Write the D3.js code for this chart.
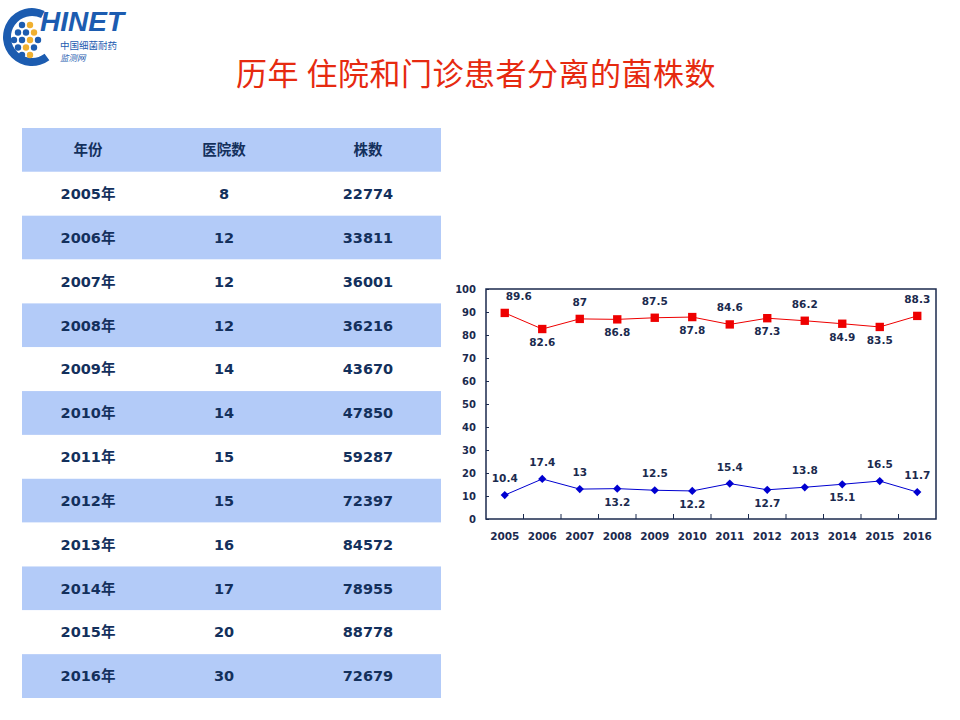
<!DOCTYPE html>
<html>
  <head>
    <meta charset="UTF-8">
    <script src="https://d3js.org/d3.v7.min.js"></script>
    <style type="text/css">
    body {
      margin: 0;
      background: #fff;
      font-family: 'DejaVu Sans', sans-serif;
    }
    </style>
  </head>
  <body>
  </body>
  <script>
    // table data
    var years = ["2005","2006","2007","2008","2009","2010","2011","2012","2013","2014","2015","2016"];
    var hospitals = [8, 12, 12, 12, 14, 14, 15, 15, 16, 17, 20, 30];
    var isolates = [22774, 33811, 36001, 36216, 43670, 47850, 59287, 72397, 84572, 78955, 88778, 72679];
    var tableHeader = ["年份", "医院数", "株数"];

    // chart data (%)
    var inpatient = [89.6, 82.6, 87, 86.8, 87.5, 87.8, 84.6, 87.3, 86.2, 84.9, 83.5, 88.3];
    var outpatient = [10.4, 17.4, 13, 13.2, 12.5, 12.2, 15.4, 12.7, 13.8, 15.1, 16.5, 11.7];
    var yTicks = [0, 10, 20, 30, 40, 50, 60, 70, 80, 90, 100];
    // label above (1) or below (-1) the point
    var inpatientSide = [1, -1, 1, -1, 1, -1, 1, -1, 1, -1, -1, 1];
    var outpatientSide = [1, 1, 1, -1, 1, -1, 1, -1, 1, -1, 1, 1];

    var navy = "#1b2a4e";

    var svg = d3.select("body").append("svg")
      .attr("width", 960)
      .attr("height", 720);

    // ---- logo ----
    var logo = svg.append("g");
    logo.append("path")
      .attr("d", d3.arc()({innerRadius: 21, outerRadius: 29, startAngle: 2.5, endAngle: 2 * Math.PI + 0.45}))
      .attr("transform", "translate(32,37)")
      .attr("fill", "#1c5cb0");
    var dots = [[0.5,0],[1.5,0],[0,1],[1,1],[2,1],[-0.5,2],[0.5,2],[1.5,2],[2.5,2],[0,3],[1,3],[2,3],[0.5,4],[1.5,4]];
    logo.selectAll("circle.dot").data(dots).enter().append("circle")
      .attr("cx", function(d) { return 18 + d[0] * 8; })
      .attr("cy", function(d) { return 25 + d[1] * 7.5; })
      .attr("r", 3.2)
      .attr("fill", function(d, i) { return (i % 3 == 1) ? "#f0b030" : "#1c5cb0"; });
    logo.append("text")
      .attr("x", 40).attr("y", 31)
      .style("font-family", "'Liberation Sans', sans-serif")
      .style("font-weight", "bold")
      .style("font-style", "italic")
      .style("font-size", "28px")
      .style("fill", "#1c5cb0")
      .text("HINET");
    logo.append("text")
      .attr("x", 60).attr("y", 49)
      .style("font-family", "'Noto Sans CJK SC', sans-serif")
      .style("font-size", "9.5px")
      .style("fill", "#1c5cb0")
      .text("中国细菌耐药");
    logo.append("text")
      .attr("x", 60).attr("y", 61)
      .style("font-family", "'Noto Sans CJK SC', sans-serif")
      .style("font-size", "8.5px")
      .style("font-style", "italic")
      .style("fill", "#1c5cb0")
      .text("监测网");

    // ---- title ----
    svg.append("text")
      .attr("x", 476)
      .attr("y", 85)
      .attr("text-anchor", "middle")
      .style("font-family", "'Noto Sans CJK SC', sans-serif")
      .style("font-size", "31px")
      .style("letter-spacing", "0.5px")
      .style("fill", "#e62a10")
      .text("历年 住院和门诊患者分离的菌株数");

    // ---- table ----
    var rowY = d3.scaleBand()
      .domain(d3.range(years.length + 1))
      .range([128, 698]);
    var colX = [88, 224, 368];
    var rows = [tableHeader].concat(years.map(function(y, i) {
      return [y + "年", hospitals[i], isolates[i]];
    }));
    var table = svg.append("g");
    table.selectAll("rect").data(rows).enter().append("rect")
      .attr("x", 22)
      .attr("y", function(d, i) { return rowY(i); })
      .attr("width", 419)
      .attr("height", rowY.bandwidth())
      .attr("fill", function(d, i) { return i % 2 == 0 ? "#b3cbf8" : "#ffffff"; });
    rows.forEach(function(r, i) {
      table.selectAll("text.r" + i).data(r).enter().append("text")
        .attr("x", function(d, j) { return colX[j]; })
        .attr("y", rowY(i) + rowY.bandwidth() / 2)
        .attr("dy", "0.36em")
        .attr("text-anchor", "middle")
        .style("font-family", "'DejaVu Sans', 'Noto Sans CJK SC', sans-serif")
        .style("font-weight", "bold")
        .style("font-size", "14.5px")
        .style("fill", "#13305c")
        .text(function(d) { return d; });
    });

    // ---- line chart ----
    var x = d3.scaleBand()
      .domain(years)
      .range([486, 936]);
    var y = d3.scaleLinear()
      .domain([0, 100])
      .range([519, 289]);
    var cx = function(d, i) { return x(years[i]) + x.bandwidth() / 2; };

    var chart = svg.append("g")
      .style("font-family", "'DejaVu Sans', sans-serif")
      .style("font-weight", "bold");

    chart.append("rect")
      .attr("x", 486).attr("y", 289)
      .attr("width", 450).attr("height", 230)
      .attr("fill", "#fff")
      .attr("stroke", navy)
      .attr("stroke-width", 1.5);

    // y axis
    var yAxis = chart.append("g")
      .attr("transform", "translate(486,0)")
      .call(d3.axisLeft(y).tickValues(yTicks).tickSize(-3).tickPadding(10));
    yAxis.select(".domain").remove();
    yAxis.selectAll("line").attr("stroke", navy);
    yAxis.selectAll("text")
      .style("font-family", "'DejaVu Sans', sans-serif")
      .style("font-weight", "bold")
      .style("font-size", "10px")
      .style("fill", navy);

    // x axis: ticks between categories
    var xAxis = chart.append("g")
      .attr("transform", "translate(0,519)")
      .call(d3.axisBottom(x).tickSize(0).tickPadding(14));
    xAxis.select(".domain").remove();
    xAxis.selectAll("text")
      .style("font-family", "'DejaVu Sans', sans-serif")
      .style("font-weight", "bold")
      .style("font-size", "10.5px")
      .style("fill", navy);
    chart.selectAll("line.xtick").data(years.slice(1)).enter().append("line")
      .attr("class", "xtick")
      .attr("x1", function(d) { return x(d); })
      .attr("x2", function(d) { return x(d); })
      .attr("y1", 519)
      .attr("y2", 514)
      .attr("stroke", navy);

    function drawSeries(name, values, side, color, diamond) {
      var line = d3.line()
        .x(cx)
        .y(function(d) { return y(d); });
      chart.append("path")
        .datum(values)
        .attr("fill", "none")
        .attr("stroke", color)
        .attr("stroke-width", 1)
        .attr("d", line);
      chart.selectAll("path.m-" + name).data(values).enter().append("path")
        .attr("class", "m-" + name)
        .attr("d", d3.symbol().type(d3.symbolSquare).size(diamond ? 34 : 70))
        .attr("transform", function(d, i) {
          return "translate(" + cx(d, i) + "," + y(d) + ")" + (diamond ? " rotate(45)" : "");
        })
        .attr("fill", color);
      chart.selectAll("text.l-" + name).data(values).enter().append("text")
        .attr("class", "l-" + name)
        .attr("x", function(d, i) { return cx(d, i) + (i == 0 && side[i] > 0 && !diamond ? 14 : 0); })
        .attr("y", function(d, i) { return y(d) + (side[i] > 0 ? -13 : 17); })
        .attr("text-anchor", "middle")
        .style("font-size", "10.5px")
        .style("fill", navy)
        .text(function(d) { return d; });
    }
    drawSeries("in", inpatient, inpatientSide, "#ee0000", false);
    drawSeries("out", outpatient, outpatientSide, "#0000d0", true);
  </script>
</html>
